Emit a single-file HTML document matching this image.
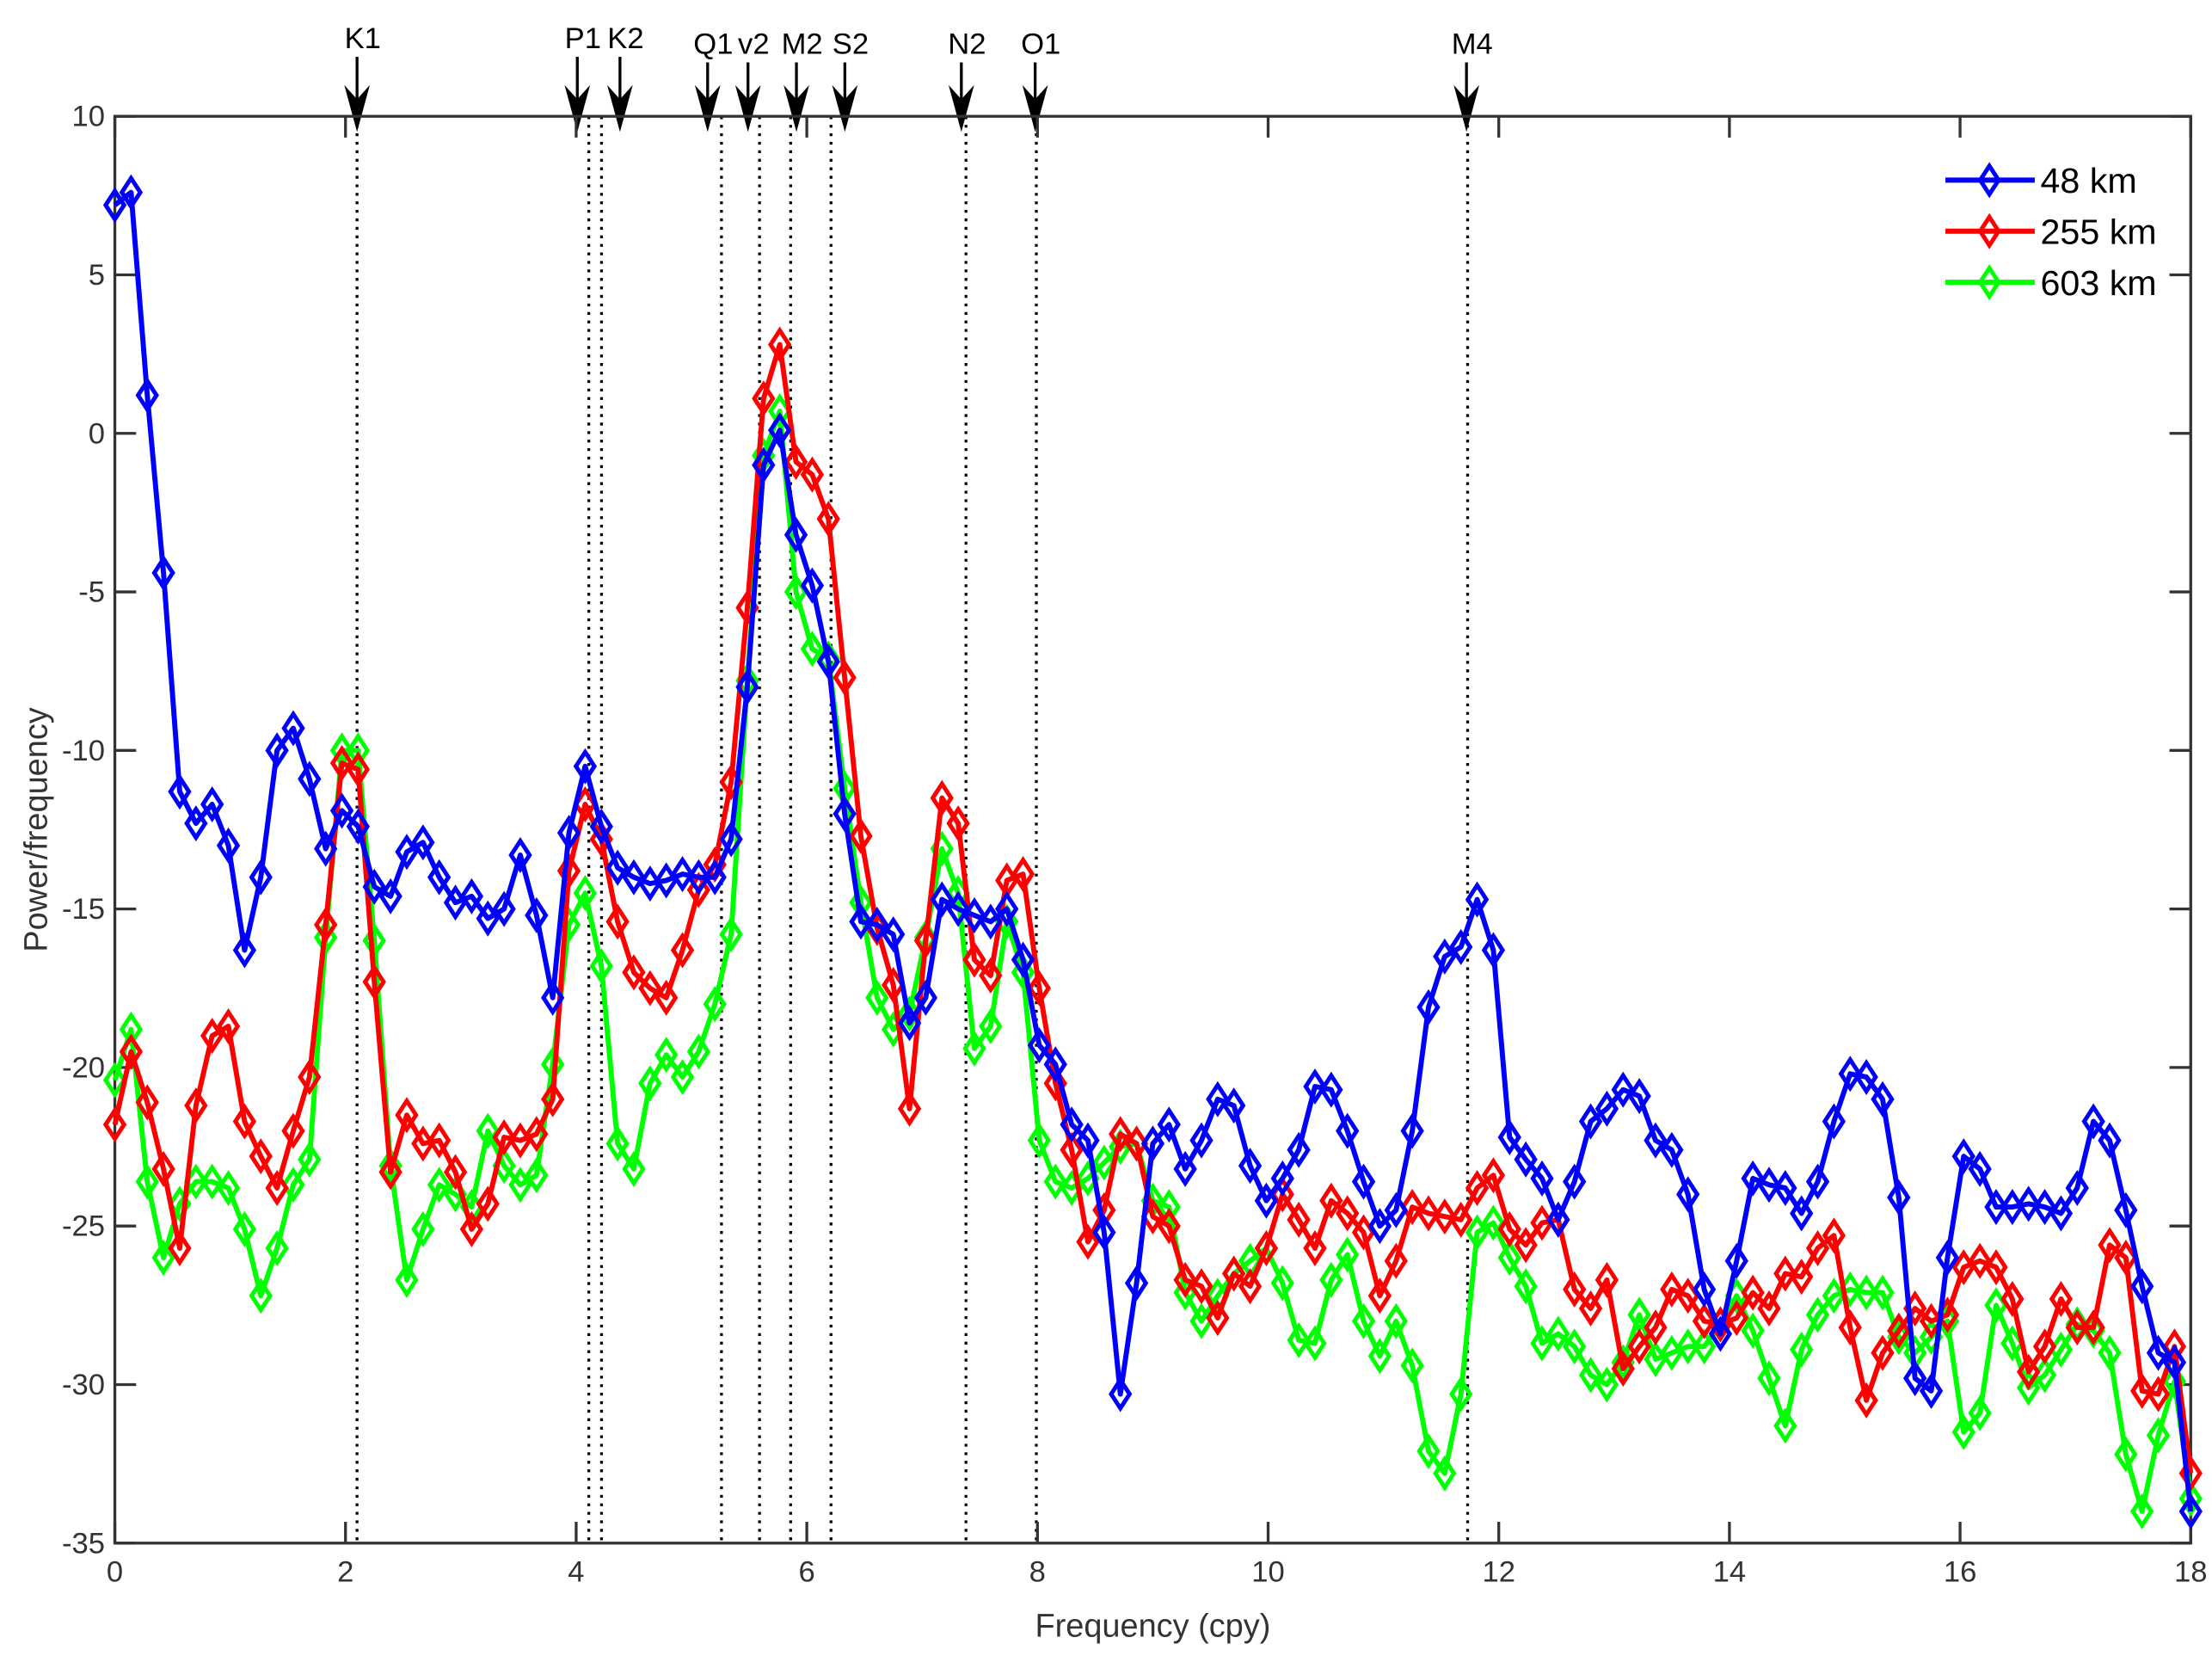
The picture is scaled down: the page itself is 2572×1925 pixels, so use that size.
<!DOCTYPE html>
<html><head><meta charset="utf-8"><style>
html,body{margin:0;padding:0;background:#fff}
svg{display:block}
text{font-family:"Liberation Sans",Arial,sans-serif}
</style></head><body>
<svg id="chart" xmlns="http://www.w3.org/2000/svg" width="2572" height="1925" viewBox="0 0 1560 1167.6" preserveAspectRatio="none">
<rect x="0" y="0" width="1560" height="1167.6" fill="#fff"/>
<g id="tides"></g>
<g id="axes"></g>
<g id="series"></g>
<g id="legend"></g>
<text x="813" y="1154" text-anchor="middle" font-size="23" fill="#333">Frequency (cpy)</text>
<text transform="translate(33,585) rotate(-90)" text-anchor="middle" font-size="23" fill="#333">Power/frequency</text>
</svg>
<script>
const xTicks = [0,2,4,6,8,10,12,14,16,18];
const yTicks = [10,5,0,-5,-10,-15,-20,-25,-30,-35];
const freqStep = 0.140625;
const blue48 = [7.2,7.6,1.2,-4.4,-11.3,-12.3,-11.7,-13.0,-16.3,-14.0,-10.0,-9.3,-10.9,-13.1,-11.9,-12.4,-14.3,-14.6,-13.2,-12.9,-14.0,-14.8,-14.6,-15.3,-15.0,-13.3,-15.2,-17.8,-12.6,-10.5,-12.4,-13.7,-14.0,-14.2,-14.1,-13.9,-14.0,-14.0,-12.8,-8.0,-1.0,0.1,-3.2,-4.8,-7.2,-12.0,-15.4,-15.5,-15.8,-18.6,-17.8,-14.7,-15.0,-15.2,-15.4,-15.0,-16.6,-19.3,-19.9,-21.8,-22.3,-25.2,-30.3,-26.8,-22.4,-21.8,-23.2,-22.3,-21.0,-21.2,-23.1,-24.2,-23.5,-22.6,-20.6,-20.7,-22.0,-23.6,-25.0,-24.5,-22.0,-18.1,-16.5,-16.2,-14.7,-16.3,-22.2,-22.9,-23.5,-24.8,-23.6,-21.7,-21.3,-20.7,-20.9,-22.3,-22.6,-24.0,-27.0,-28.4,-26.1,-23.5,-23.7,-23.8,-24.6,-23.6,-21.7,-20.2,-20.3,-21.0,-24.1,-29.8,-30.2,-26.0,-22.8,-23.2,-24.4,-24.4,-24.3,-24.4,-24.6,-23.8,-21.7,-22.3,-24.5,-26.9,-29.0,-29.3,-34.0];
const red255 = [-21.8,-19.5,-21.1,-23.2,-25.7,-21.2,-19.0,-18.7,-21.7,-22.8,-23.8,-22.0,-20.3,-15.5,-10.4,-10.6,-17.3,-23.3,-21.5,-22.4,-22.3,-23.3,-25.1,-24.3,-22.2,-22.3,-22.1,-21.0,-13.8,-11.7,-12.8,-15.4,-17.0,-17.5,-17.8,-16.3,-14.4,-13.6,-11.0,-5.5,1.1,2.8,-0.9,-1.3,-2.7,-7.7,-12.7,-15.6,-17.4,-21.3,-16.0,-11.5,-12.3,-16.6,-17.1,-14.1,-13.9,-17.5,-20.5,-22.6,-25.5,-24.5,-22.1,-22.4,-24.7,-25.0,-26.7,-26.9,-27.9,-26.5,-26.9,-25.7,-24.0,-24.8,-25.7,-24.2,-24.6,-25.2,-27.2,-26.1,-24.4,-24.6,-24.7,-24.8,-23.8,-23.4,-25.1,-25.6,-24.9,-24.8,-27.0,-27.6,-26.7,-29.5,-28.8,-28.2,-27.0,-27.2,-28.0,-28.1,-27.9,-27.1,-27.6,-26.5,-26.6,-25.7,-25.3,-28.2,-30.5,-29.0,-28.3,-27.6,-28.0,-27.8,-26.3,-26.1,-26.3,-27.3,-29.6,-28.8,-27.3,-28.2,-28.2,-25.6,-26.0,-30.2,-30.3,-28.8,-32.8];
const green603 = [-20.4,-18.8,-23.6,-26.0,-24.3,-23.6,-23.6,-23.8,-25.1,-27.2,-25.7,-23.7,-22.9,-15.9,-10.0,-10.0,-16.0,-23.1,-26.7,-25.1,-23.7,-24.0,-24.4,-22.0,-23.1,-23.7,-23.4,-19.9,-15.5,-14.5,-16.8,-22.4,-23.2,-20.5,-19.6,-20.3,-19.5,-18.0,-15.8,-7.8,-0.7,0.7,-5.0,-6.8,-7.1,-11.2,-14.8,-17.8,-18.8,-18.3,-15.9,-13.1,-14.5,-19.4,-18.7,-15.4,-17.0,-22.3,-23.6,-23.8,-23.5,-23.0,-22.5,-22.4,-24.2,-24.4,-27.1,-28.0,-27.2,-26.5,-26.1,-25.7,-26.8,-28.6,-28.7,-26.7,-25.9,-28.0,-29.1,-28.0,-29.4,-32.1,-32.8,-30.3,-25.2,-24.9,-26.0,-26.9,-28.7,-28.4,-28.8,-29.7,-30.0,-29.3,-27.8,-29.2,-29.0,-28.8,-28.8,-28.1,-27.2,-28.3,-29.8,-31.3,-28.9,-27.8,-27.2,-27.0,-27.1,-27.1,-28.5,-29.0,-28.5,-28.0,-31.5,-30.9,-27.5,-28.7,-30.1,-29.7,-28.9,-28.1,-28.3,-29.0,-32.2,-34.0,-31.6,-29.9,-33.6];
const tideNames = ["K1","P1","K2","Q1","v2","M2","S2","N2","O1","M4"];
const tideLineFreq = [2.10,4.11,4.22,5.26,5.59,5.86,6.21,7.38,7.99,11.73];
const tideArrowFreq = [2.10,4.01,4.38,5.14,5.49,5.91,6.33,7.34,7.98,11.72];

const L=81,R=1545,T=82,B=1088;
const sx=v=>L+(v-0)/18*(R-L);
const sy=v=>T+(10-v)/45*(B-T);
const NS="http://www.w3.org/2000/svg";
function mk(tag,attrs,parent){const e=document.createElementNS(NS,tag);for(const k in attrs)e.setAttribute(k,attrs[k]);parent.appendChild(e);return e;}

const tg=document.getElementById('tides');
tideNames.forEach((n,i)=>{
  const lx=sx(tideLineFreq[i]);
  const ln=mk('line',{x1:lx,x2:lx,y1:T,y2:B,stroke:'#000','stroke-width':2,'stroke-dasharray':'2,4'},tg);
  
  
  const ax=sx(tideArrowFreq[i]);
  const y0=(n==="K1"||n==="P1"||n==="K2")?40:44;
  const a=mk('line',{x1:ax,x2:ax,y1:y0,y2:80,stroke:'#000','stroke-width':2},tg);
  
  
  const h=mk('polygon',{points:`${ax-9},60 ${ax},93 ${ax+9},60 ${ax},70`,fill:'#000'},tg);
  
  
  const t=mk('text',{x:ax+4,y:y0-6,'text-anchor':'middle','font-size':21,fill:'#000'},tg);
  t.textContent=n;
  
  
});

const ag=document.getElementById('axes');
const box=mk('rect',{x:L,y:T,width:R-L,height:B-T,fill:'none',stroke:'#333','stroke-width':2},ag);


xTicks.forEach(v=>{
  const x=sx(v);
  const t1=mk('line',{x1:x,x2:x,y1:B,y2:B-15,stroke:'#333','stroke-width':2},ag);
  
  
  const t2=mk('line',{x1:x,x2:x,y1:T,y2:T+15,stroke:'#333','stroke-width':2},ag);
  
  
  const tl=mk('text',{x:x,y:B+27,'text-anchor':'middle','font-size':21,fill:'#333'},ag);
  tl.textContent=v;
  
  
});
yTicks.forEach(v=>{
  const y=sy(v);
  const t1=mk('line',{x1:L,x2:L+15,y1:y,y2:y,stroke:'#333','stroke-width':2},ag);
  
  
  const t2=mk('line',{x1:R,x2:R-15,y1:y,y2:y,stroke:'#333','stroke-width':2},ag);
  
  
  const tl=mk('text',{x:L-7,y:y+7,'text-anchor':'end','font-size':21,fill:'#333'},ag);
  tl.textContent=v;
  
  
});

const sg=document.getElementById('series');
const seriesList=[[blue48,'#0000ff','series-48km'],[red255,'#ff0000','series-255km'],[green603,'#00ff00','series-603km']];
function diamond(x,y){return `${x-6.5},${y} ${x},${y-10} ${x+6.5},${y} ${x},${y+10}`;}
[seriesList[2],seriesList[1],seriesList[0]].forEach(([arr,col,name])=>{
  const g=mk('g',{},sg);
  
  
  const pts=arr.map((v,i)=>`${sx(i*freqStep)},${sy(v)}`).join(' ');
  const pl=mk('polyline',{points:pts,fill:'none',stroke:col,'stroke-width':3.6,'stroke-linejoin':'round'},g);
  
  
  arr.forEach((v,i)=>{
    const m=mk('polygon',{points:diamond(sx(i*freqStep),sy(v)),fill:'none',stroke:col,'stroke-width':3},g);
    
    
  });
});

const lg=document.getElementById('legend');
const legendLabels=['48 km','255 km','603 km'];
const legendCols=['#0000ff','#ff0000','#00ff00'];
legendLabels.forEach((lab,i)=>{
  const y=127+i*36;
  const l=mk('line',{x1:1372,x2:1435,y1:y,y2:y,stroke:legendCols[i],'stroke-width':3.6},lg);
  
  
  const d=mk('polygon',{points:diamond(1403,y),fill:'none',stroke:legendCols[i],'stroke-width':3},lg);
  
  
  const t=mk('text',{x:1439,y:y+9,'font-size':25,fill:'#000'},lg);
  t.textContent=lab;
  
  
});
</script>
</body></html>
